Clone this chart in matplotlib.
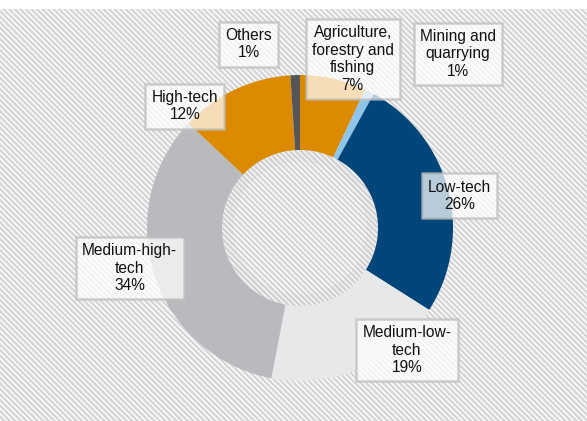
import numpy as np
import matplotlib
matplotlib.use("Agg")
import matplotlib.pyplot as plt
from matplotlib.patches import Rectangle, Circle

plt.rcParams['font.family'] = ['Liberation Sans', 'DejaVu Sans']
plt.rcParams['hatch.linewidth'] = 1.8
plt.rcParams['hatch.color'] = '#d6d6d8'

# shares of manufacturing/other sectors, clockwise from 12 o'clock
sectors = ['Agriculture,\nforestry and\nfishing', 'Mining and\nquarrying', 'Low-tech',
           'Medium-low-\ntech', 'Medium-high-\ntech', 'High-tech', 'Others']
shares = [7, 1, 26, 19, 34, 12, 1]
colors = ['#dc8a00', '#8fc5e8', '#00467a', '#e7e8ea', '#b8babd', '#dc8a00', '#545557']

# label box centres (figure fraction)
label_pos = [(0.601, 0.860), (0.780, 0.872), (0.783, 0.535),
             (0.693, 0.168), (0.221, 0.363), (0.315, 0.748), (0.424, 0.895)]

W, H = 587, 421
fig = plt.figure(figsize=(W / 100, H / 100), dpi=100)
fig.patch.set_facecolor('white')

# striped background
bg = Rectangle((0, 0), 1, 1 - 9 / H, transform=fig.transFigure, facecolor='white',
               edgecolor='#d6d6d8', hatch='\\\\\\\\\\\\', linewidth=0, zorder=-5)
fig.patches.append(bg)

cx, cy, R = 300, 228, 153
half = 160
ax = fig.add_axes([(cx - half) / W, (H - cy - half) / H, 2 * half / W, 2 * half / H])
ax.set_zorder(1)
ax.axis('off')
ax.patch.set_alpha(0)

wedges, _ = ax.pie(shares, colors=colors, startangle=90, counterclock=False, radius=1,
                   wedgeprops=dict(width=0.49, linewidth=0))
ax.set_aspect('equal')
ax.set_xlim(-half / R, half / R)
ax.set_ylim(-half / R, half / R)

# soft shadow just inside the hole
for r in np.linspace(0.44, 0.505, 7):
    ax.add_patch(Circle((0, 0), r, facecolor='none', edgecolor='#9a9a9c',
                        linewidth=1.4, alpha=0.05, zorder=3))

for name, val, (x, y) in zip(sectors, shares, label_pos):
    fig.text(x, y, f'{name}\n{val}%', ha='center', va='center', fontsize=11.2,
             color='#111111', linespacing=1.2, zorder=5,
             bbox=dict(boxstyle='square,pad=0.4', facecolor='white', alpha=0.72,
                       edgecolor='#bdbdbd', linewidth=1.8))

fig.savefig('out.png', dpi=100)
